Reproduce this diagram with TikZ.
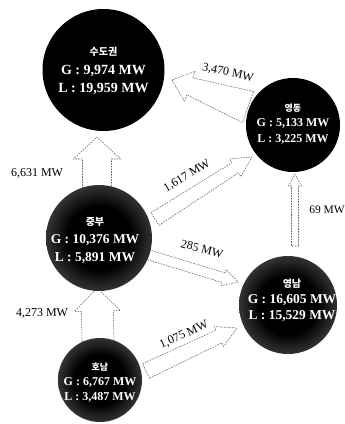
\documentclass[tikz,border=0pt]{standalone}
\usepackage{fontspec}
\setmainfont{Liberation Serif}
\newfontfamily\cjk{Noto Sans CJK KR}
\usetikzlibrary{calc}
\pgfdeclareradialshading{ballgrad}{\pgfpoint{0bp}{0bp}}{color(0bp)=(black); color(15bp)=(black); color(27bp)=(black!76); color(40bp)=(black!52); color(50bp)=(black!38)}
\tikzset{
  region/.style={circle, inner sep=0pt, outer sep=0pt},
  solidregion/.style={region, fill=black},
  shadedregion/.style={region, shade, shading=ballgrad},
  regiontext/.style={text=white, align=center, inner sep=0pt, font=\bfseries},
  flowarrow/.style={draw=black!60, fill=white, line width=0.55pt, dash pattern=on 1.6pt off 1.1pt, line join=miter},
  flowlabel/.style={font=\fontsize{12}{14}\selectfont, inner sep=0pt},
}
\newcommand\blockarr[6]{%
  \path ($(#2)!#6!(#1)$) coordinate (bah);
  \draw[flowarrow] ($(#1)!#3!-90:(#2)$) -- ($(bah)!#4!90:(#1)$) -- ($(bah)!#5!90:(#1)$) -- (#2)
    -- ($(bah)!#5!-90:(#1)$) -- ($(bah)!#4!-90:(#1)$) -- ($(#1)!#3!90:(#2)$) -- cycle;}
\begin{document}
\begin{tikzpicture}[x=1pt, y=-1pt]
\useasboundingbox (0,0) rectangle (345,424);
% arrow end points
\coordinate (a1t) at (97,189);  \coordinate (a1h) at (97,137);
\coordinate (a2t) at (98,341);  \coordinate (a2h) at (97,288);
\coordinate (a3t) at (295,246); \coordinate (a3h) at (295,174);
\coordinate (a4t) at (248,107); \coordinate (a4h) at (172,80);
\coordinate (a5t) at (155,219); \coordinate (a5h) at (252,157);
\coordinate (a6t) at (149,255); \coordinate (a6h) at (238,282);
\coordinate (a7t) at (146,371); \coordinate (a7h) at (237,328);
% arrows
\blockarr{a1t}{a1h}{14.5pt}{14.5pt}{23.5pt}{22pt}
\blockarr{a2t}{a2h}{16pt}{16pt}{23pt}{23pt}
\blockarr{a3t}{a3h}{3.5pt}{3.5pt}{6.5pt}{12pt}
\blockarr{a4t}{a4h}{16.5pt}{9pt}{16pt}{19pt}
\blockarr{a5t}{a5h}{7.5pt}{6pt}{10.5pt}{20pt}
\blockarr{a6t}{a6h}{5pt}{5pt}{8.5pt}{15pt}
\blockarr{a7t}{a7h}{8pt}{7pt}{11pt}{20pt}
% regions
\node[solidregion, minimum size=122pt] (sd) at (103.5,70) {};
\node[solidregion, minimum size=94pt] (yd) at (293,125) {};
\node[shadedregion, minimum size=106pt] (jb) at (99,238) {};
\node[shadedregion, minimum size=98pt] (yn) at (288,305) {};
\node[shadedregion, minimum size=84pt] (hn) at (100,380) {};
% region texts
\node[regiontext, font=\bfseries\fontsize{14}{18.5}\selectfont] (sdt) at (103.5,71)
  {{\cjk\fontsize{10}{12}\selectfont 수도권}\\G : 9,974 MW\\L : 19,959 MW};
\node[regiontext, font=\bfseries\fontsize{12}{15.5}\selectfont] (ydt) at (293,124)
  {{\cjk\fontsize{9}{11}\selectfont 영동}\\G : 5,133 MW\\L : 3,225 MW};
\node[regiontext, font=\bfseries\fontsize{13.5}{18}\selectfont] (jbt) at (95,240)
  {{\cjk\fontsize{10}{12}\selectfont 중부}\\G : 10,376 MW\\L : 5,891 MW};
\node[regiontext, font=\bfseries\fontsize{13.5}{16}\selectfont] (ynt) at (292,300)
  {{\cjk\fontsize{10}{12}\selectfont 영남}\\G : 16,605 MW\\L : 15,529 MW};
\node[regiontext, font=\bfseries\fontsize{12}{15}\selectfont] (hnt) at (100,383)
  {{\cjk\fontsize{9}{11}\selectfont 호남}\\G : 6,767 MW\\L : 3,487 MW};
% flow labels
\node[flowlabel] (l1) at (37,173) {6,631 MW};
\node[flowlabel] (l2) at (42,313) {4,273 MW};
\node[flowlabel, font=\fontsize{11.5}{13}\selectfont] (l3) at (327,210) {69 MW};
\node[flowlabel, rotate=-12] (l4) at (228,73) {3,470 MW};
\node[flowlabel, rotate=31] (l5) at (187,176) {1,617 MW};
\node[flowlabel, rotate=-15] (l6) at (202,249) {285 MW};
\node[flowlabel, rotate=25] (l7) at (184,335) {1,075 MW};
\end{tikzpicture}
\end{document}
